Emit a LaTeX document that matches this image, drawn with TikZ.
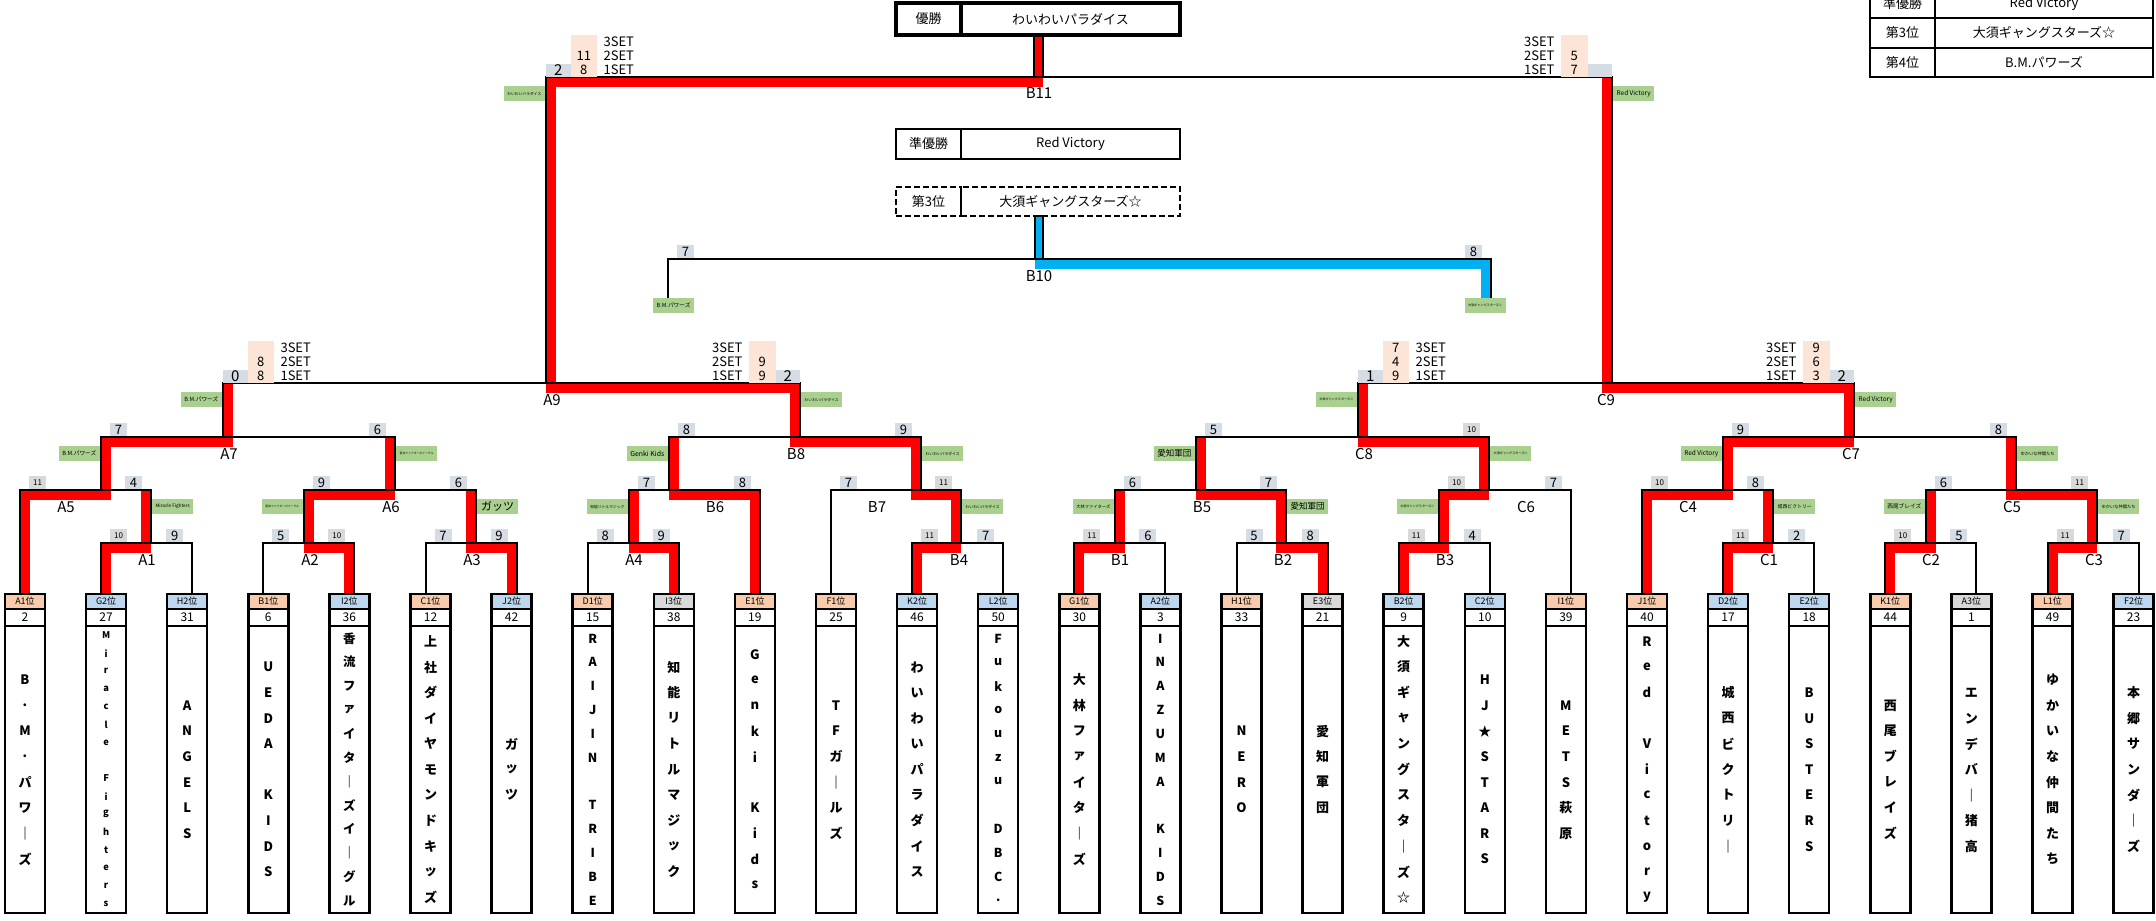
\documentclass[tikz,border=0pt]{standalone}
\usepackage{fontspec}
\usepackage{graphicx}
\setmainfont{Noto Sans CJK JP}
\usetikzlibrary{calc,positioning}

\definecolor{winred}{HTML}{FF0000}
\definecolor{thirdblue}{HTML}{00B0F0}
\definecolor{tagreen}{HTML}{A9D08E}
\definecolor{rank1}{HTML}{F8CBAD}
\definecolor{rank2}{HTML}{BDD7EE}
\definecolor{rank3}{HTML}{D9D9D9}
\definecolor{setpeach}{HTML}{FCE4D6}
\definecolor{ptgray}{HTML}{D9D9D9}
\definecolor{ptblue}{HTML}{D6DCE4}

\pgfdeclarelayer{lines}
\pgfsetlayers{lines,main}

\newsavebox\gbox
\newcommand\fsz[1]{\fontsize{#1}{#1}\selectfont}
\newcommand\fitg[1]{\sbox\gbox{\fsz{11}#1}\ifdim\wd\gbox>34pt\resizebox{34pt}{!}{\usebox\gbox}\else\usebox\gbox\fi}
\newcommand\scr[1]{\ifnum#1>9 \fsz{8}#1\else\fsz{13}#1\fi}

% set scores beside a final
\newcommand\setside[7]{%
  \begin{scope}[shift={(#1)},xscale=#2]
    \fill[ptblue] (0,0) rectangle (24.5,-13);
    \node[font=\fsz{15}] at (12.25,-6.5) {#3};
    \fill[setpeach] (24.5,0) rectangle (51,-42);
    \foreach \sv/\sn [count=\q] in {#4/3,#5/2,#6/1} {
      \node[font=\fsz{13}] at (37.75,{-49+14*\q}) {\sv};
      \node[font=\fsz{13},anchor=#7] at (54,{-49+14*\q}) {\sn SET};
    }
  \end{scope}}

% match/left/right/parent/winner/winner side/side in parent/score l/score r/label shift/tag
\def\matchlist{A1/tG2/tH2/mA5/tG2/5/-5/10/9/-4/Miracle Fighters,
A2/tB1/tI2/mA6/tI2/-5/5/5/10/6/香流ファイターズイーグル,
A3/tC1/tJ2/mA6/tJ2/-5/-5/7/9/-4/ガッツ,
A4/tD1/tI3/mB6/tI3/-5/5/8/9/5/知能リトルマジック,
B4/tK2/tL2/mB7/tK2/5/-5/11/7/-2/わいわいパラダイス,
B1/tG1/tA2/mB5/tG1/5/5/11/6/5/大林ファイターズ,
B2/tH1/tE3/mB5/tE3/-5/-5/5/8/-3/愛知軍団,
B3/tB2/tC2/mC6/tB2/5/5/11/4/6/大須ギャングスターズ☆,
C1/tD2/tE2/mC4/tD2/5/-5/11/2/-4/城西ビクトリー,
C2/tK1/tA3/mC5/tK1/5/5/10/5/5/西尾ブレイズ,
C3/tL1/tF2/mC5/tL1/5/-5/11/7/-3/ゆかいな仲間たち,
A5/tA1/mA1/mA7/tA1/5/5/11/4/-35/B.M.パワーズ,
A6/mA2/mA3/mA7/mA2/5/-5/9/6/-4/香流ファイターズイーグル,
B6/mA4/tE1/mB8/tE1/-5/5/7/8/46/Genki Kids,
B7/tF1/mB4/mB8/mB4/-5/-5/7/11/-44/わいわいパラダイス,
B5/mB1/mB2/mC8/mB2/-5/5/6/7/6/愛知軍団,
C6/mB3/tI1/mC8/mB3/5/-5/10/7/37/大須ギャングスターズ☆,
C4/tJ1/mC1/mC7/tJ1/5/5/10/8/-35/Red Victory,
C5/mC2/mC3/mC7/mC3/-5/-5/6/11/-4/ゆかいな仲間たち,
A7/mA5/mA6/mA9/mA5/5/5/7/6/6/B.M.パワーズ,
B8/mB6/mB7/mA9/mB7/-5/-5/8/9/-4/わいわいパラダイス,
C8/mB5/mC6/mC9/mC6/-5/5/5/10/6/大須ギャングスターズ☆,
C7/mC4/mC5/mC9/mC4/5/-5/9/8/-3/Red Victory,
A9/mA7/mB8/mB11/mB8/-5/5/-1/-1/6/わいわいパラダイス,
C9/mC8/mC7/mB11/mC7/-5/-5/-1/-1/-6/Red Victory}

\begin{document}
\begin{tikzpicture}[x=1pt,y=-1pt,
  bline/.style={line width=2pt},
  rline/.style={draw=winred,line width=10pt,line join=miter},
  glab/.style={fill=tagreen,minimum width=41pt,minimum height=15pt,inner sep=0pt},
  mlab/.style={font=\fsz{15}},
  ptbox/.style={minimum width=17pt,minimum height=13pt,inner sep=0pt},
  resl/.style={draw,line width=2.5pt,minimum width=65pt,minimum height=30pt,inner sep=0pt,outer sep=0pt,font=\fsz{13}},
  resr/.style={resl,minimum width=219pt},
  rankbox/.style={draw,line width=2.5pt,minimum width=40pt,minimum height=15pt,inner sep=0pt,outer sep=0pt,font=\fsz{9}},
  numbox/.style={rankbox,minimum height=17pt,font=\fsz{12}},
  namebox/.style={rankbox,minimum height=287pt}]
\useasboundingbox (0,0) rectangle (2156,921);

% results
\node[resl,line width=3.5pt,minimum height=32pt] (winL) at (928.5,19) {優勝};
\node[resr,line width=3.5pt,minimum height=32pt,right=0pt of winL] (win) {わいわいパラダイス};
\node[resl] (rupL) at (928.5,144) {準優勝};
\node[resr,right=0pt of rupL] (rup) {Red Victory};
\node[resl,dash pattern=on 6pt off 3pt,minimum height=29pt] (thirdL) at (928.5,201.5) {第3位};
\node[resr,dash pattern=on 6pt off 3pt,minimum height=29pt,right=0pt of thirdL] (third) {大須ギャングスターズ☆};

% ranking table
\begin{scope}
  \clip (0,0) rectangle (2156,921);
  \node[resl,minimum height=29pt] (tab2L) at (1902.5,3.5) {準優勝};
  \node[resr,minimum width=218pt,minimum height=29pt,right=0pt of tab2L] (tab2) {Red Victory};
  \node[resl,below=0pt of tab2L] (tab3L) {第3位};
  \node[resr,minimum width=218pt,right=0pt of tab3L] (tab3) {大須ギャングスターズ☆};
  \node[resl,minimum height=29pt,below=0pt of tab3L] (tab4L) {第4位};
  \node[resr,minimum width=218pt,minimum height=29pt,right=0pt of tab4L] (tab4) {B.M.パワーズ};
\end{scope}

% teams
\foreach \i/\rk/\hc/\tnum/\s/\nc/\tname in {
  0/A1/rank1/2/-5/8/{B,.,M,.,パ,ワ,｜,ズ},
  1/G2/rank2/27/-5/16/{M,i,r,a,c,l,e,~,F,i,g,h,t,e,r,s},
  2/H2/rank2/31/5/6/{A,N,G,E,L,S},
  3/B1/rank1/6/-5/9/{U,E,D,A,~,K,I,D,S},
  4/I2/rank2/36/5/12/{香,流,フ,ァ,イ,タ,｜,ズ,イ,｜,グ,ル},
  5/C1/rank1/12/-5/11/{上,社,ダ,イ,ヤ,モ,ン,ド,キ,ッ,ズ},
  6/J2/rank2/42/5/3/{ガ,ッ,ツ},
  7/D1/rank1/15/-5/12/{R,A,I,J,I,N,~,T,R,I,B,E},
  8/I3/rank3/38/5/9/{知,能,リ,ト,ル,マ,ジ,ッ,ク},
  9/E1/rank1/19/5/10/{G,e,n,k,i,~,K,i,d,s},
  10/F1/rank1/25/-5/6/{T,F,ガ,｜,ル,ズ},
  11/K2/rank2/46/-5/9/{わ,い,わ,い,パ,ラ,ダ,イ,ス},
  12/L2/rank2/50/5/12/{F,u,k,o,u,z,u,~,D,B,C,.},
  13/G1/rank1/30/-5/8/{大,林,フ,ァ,イ,タ,｜,ズ},
  14/A2/rank2/3/5/12/{I,N,A,Z,U,M,A,~,K,I,D,S},
  15/H1/rank1/33/-5/4/{N,E,R,O},
  16/E3/rank3/21/5/4/{愛,知,軍,団},
  17/B2/rank2/9/-5/11/{大,須,ギ,ャ,ン,グ,ス,タ,｜,ズ,☆},
  18/C2/rank2/10/5/8/{H,J,★,S,T,A,R,S},
  19/I1/rank1/39/5/6/{M,E,T,S,萩,原},
  20/J1/rank1/40/-5/11/{R,e,d,~,V,i,c,t,o,r,y},
  21/D2/rank2/17/-5/7/{城,西,ビ,ク,ト,リ,｜},
  22/E2/rank2/18/5/7/{B,U,S,T,E,R,S},
  23/K1/rank1/44/-5/6/{西,尾,ブ,レ,イ,ズ},
  24/A3/rank3/1/5/7/{エ,ン,デ,バ,｜,猪,高},
  25/L1/rank1/49/-5/8/{ゆ,か,い,な,仲,間,た,ち},
  26/F2/rank2/23/5/7/{本,郷,サ,ン,ダ,｜,ズ}}{
  \pgfmathsetmacro\x{25+81.1*\i}
  \pgfmathsetmacro\pitch{min(25.6,286/\nc)}
  \pgfmathsetmacro\cf{min(13,0.52*\pitch)}
  \node[rankbox,fill=\hc] (h\rk) at (\x,601.5) {\rk{}位};
  \node[numbox,below=0pt of h\rk] (n\rk) {\tnum};
  \node[namebox,below=0pt of n\rk] (v\rk) {};
  \coordinate (t\rk) at ($(h\rk.north)+(\s,0)$);
  \foreach \cc [count=\kk] in \tname
    \node[font=\fsz{\cf}\bfseries,inner sep=0pt] at ($(v\rk.center)+(0,{(\kk-(\nc+1)/2)*\pitch})$) {\cc};
}

% match points
\coordinate (mA1) at (151,543);  \coordinate (mA2) at (304,543);
\coordinate (mA3) at (476,543);  \coordinate (mA4) at (629,543);
\coordinate (mB4) at (961,543);  \coordinate (mB1) at (1115,543);
\coordinate (mB2) at (1286,543); \coordinate (mB3) at (1439,543);
\coordinate (mC1) at (1773,543); \coordinate (mC2) at (1926,543);
\coordinate (mC3) at (2097,543);
\coordinate (mA5) at (101,490);  \coordinate (mA6) at (395,490);
\coordinate (mB6) at (669,490);  \coordinate (mB7) at (921,490);
\coordinate (mB5) at (1196,490); \coordinate (mC6) at (1489,490);
\coordinate (mC4) at (1723,490); \coordinate (mC5) at (2016,490);
\coordinate (mA7) at (223,437);  \coordinate (mB8) at (800,437);
\coordinate (mC8) at (1358,437); \coordinate (mC7) at (1854,437);
\coordinate (mA9) at (546,383);  \coordinate (mC9) at (1612,383);
\coordinate (mB11) at (1034,77);
\coordinate (mB10) at (1035,259);
\coordinate (bL) at (668,298);   \coordinate (bR) at (1491,298);

% bracket lines
\begin{pgfonlayer}{lines}
  \foreach \mt/\ca/\cb/\pa/\wn/\dw/\dm/\sa/\sb/\ldx/\g in \matchlist
    \draw[rline] ($(\wn)+(\dw,0)$) |- ($(m\mt)+(\dm,5)$) -- ($(m\mt |- \pa)+(\dm,0)$);
  \draw[rline] ($(mA9)+(5,0)$) |- ($(mB11)+(9,5)$);
  \draw[rline,draw=thirdblue] ($(mB10)+(0,5)$) -| ($(bR)+(-5,0)$);
  \foreach \mt/\ca/\cb/\pa/\wn/\dw/\dm/\sa/\sb/\ldx/\g in \matchlist
    \draw[bline] (\ca) |- (m\mt) -| (\cb);
  \draw[bline] (mA9) |- (mB11) -| (mC9);
  \draw[bline] (bL) |- (mB10) -| (bR);
  \filldraw[bline,fill=winred] (mB11) rectangle ($(mB11 |- win.south)+(9,0)$);
  \filldraw[bline,fill=thirdblue] (mB10) rectangle ($(mB10 |- third.south)+(8,0)$);
\end{pgfonlayer}

% tags, labels and points
\foreach \mt/\ca/\cb/\pa/\wn/\dw/\dm/\sa/\sb/\ldx/\g in \matchlist {
  \ifnum\dm>0 \def\ga{north east}\def\gx{-1}\else\def\ga{north west}\def\gx{1}\fi
  \node[glab,anchor=\ga] (g\mt) at ($(m\mt |- \pa)+(\gx,9)$) {\fitg{\g}};
  \node[mlab] (l\mt) at ($(m\mt)+(\ldx,17)$) {\mt};
  \ifnum\sa<0\relax\else
    \ifnum\sa>9 \def\sfc{ptgray}\else\def\sfc{ptblue}\fi
    \node[ptbox,fill=\sfc] (sl\mt) at ($(\ca |- m\mt)+(17.5,-7.5)$) {\scr{\sa}};
    \ifnum\sb>9 \def\sfc{ptgray}\else\def\sfc{ptblue}\fi
    \node[ptbox,fill=\sfc] (sr\mt) at ($(\cb |- m\mt)+(-17.5,-7.5)$) {\scr{\sb}};
  \fi
}
\node[mlab] (lB11) at ($(mB11)+(5,16)$) {B11};
\node[mlab] (lB10) at ($(mB10)+(4,17)$) {B10};
\node[glab,anchor=north] (gB10l) at ($(bL)+(5.5,0)$) {\fitg{B.M.パワーズ}};
\node[glab,anchor=north] (gB10r) at ($(bR)+(-6,0)$) {\fitg{大須ギャングスターズ☆}};
\node[ptbox,fill=ptblue] (slB10) at ($(mB10 -| bL)+(17.5,-7.5)$) {\scr{7}};
\node[ptbox,fill=ptblue] (srB10) at ($(mB10 -| bR)+(-17.5,-7.5)$) {\scr{8}};

% set scores
\setside{mA7 |- mA9}{1}{0}{~}{8}{8}{west}
\setside{mB8 |- mA9}{-1}{2}{~}{9}{9}{east}
\setside{mC8 |- mC9}{1}{1}{7}{4}{9}{west}
\setside{mC7 |- mC9}{-1}{2}{9}{6}{3}{east}
\setside{mA9 |- mB11}{1}{2}{~}{11}{8}{west}
\setside{mC9 |- mB11}{-1}{~}{~}{5}{7}{east}
\end{tikzpicture}
\end{document}
